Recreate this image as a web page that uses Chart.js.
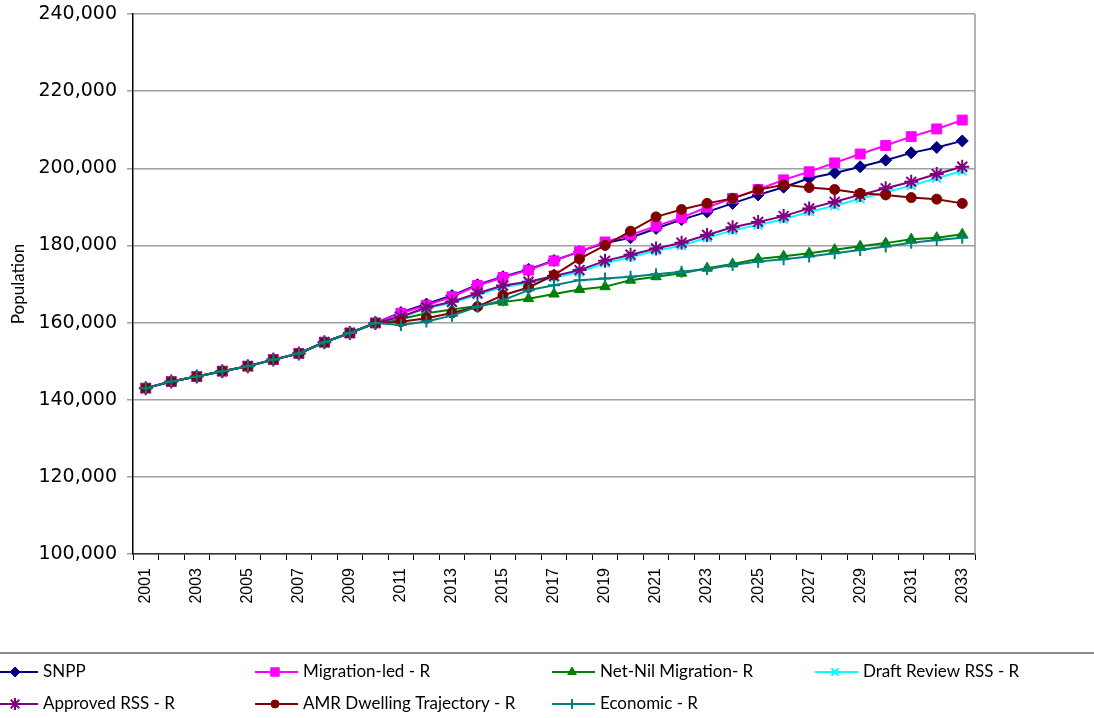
<!DOCTYPE html>
<html lang="en">
<head>
  <meta charset="utf-8">
  <title>Population projections</title>
  <style>
    html, body { margin: 0; padding: 0; background: #fff; }
    #wrap { position: relative; width: 1094px; height: 718px; }
  </style>
</head>
<body>
  <div id="wrap"><canvas id="chart"></canvas></div>

  <script src="https://cdn.jsdelivr.net/npm/chart.js"></script>
  <script>
    const years = ["2001","2002","2003","2004","2005","2006","2007","2008","2009","2010",
      "2011","2012","2013","2014","2015","2016","2017","2018","2019","2020","2021","2022",
      "2023","2024","2025","2026","2027","2028","2029","2030","2031","2032","2033"];

    // 2001-2010 is shared by every series
    const snpp = [143000,144700,146000,147400,148700,150400,152000,154900,157300,159900,
      162600,164800,167000,169800,171900,173800,176100,178400,180600,182000,184400,186700,
      188700,190900,193100,195100,197400,198800,200400,202100,204000,205400,207100];
    const migrationLed = [143000,144700,146000,147400,148700,150400,152000,154900,157300,159900,
      162400,164500,166700,169600,171700,173600,176000,178400,180900,182700,185000,187200,
      189900,192200,194500,197000,199100,201400,203700,205900,208200,210200,212500];
    const netNil = [143000,144700,146000,147400,148700,150400,152000,154900,157300,159900,
      160900,162400,163400,164300,165300,166200,167400,168600,169300,171000,171900,172800,
      174100,175200,176500,177200,178000,178900,179800,180600,181600,182000,182900];
    const draftRss = [143000,144700,146000,147400,148700,150400,152000,154900,157300,159900,
      161400,163700,165100,167200,169200,170200,171600,173100,175400,177000,178600,180000,
      182000,183900,185300,186800,188700,190300,192100,193800,195500,197400,199300];
    const approvedRss = [143000,144700,146000,147400,148700,150400,152000,154900,157300,159900,
      161500,163900,165400,167600,169600,170600,172100,173600,176000,177600,179200,180700,
      182700,184700,186100,187600,189600,191300,193100,194800,196500,198500,200400];
    const amrDwelling = [143000,144700,146000,147400,148700,150400,152000,154900,157300,159900,
      160200,161100,162500,164100,167100,169100,172300,176500,180000,183700,187400,189300,
      190900,192200,194400,195700,195000,194500,193500,193100,192400,192000,190900];
    const economic = [143000,144700,146000,147400,148700,150400,152000,154900,157300,159900,
      159400,160300,161800,164100,165800,168400,169700,171000,171400,171900,172500,173200,
      173900,174900,175800,176400,177100,178000,178800,179700,180700,181400,182000];

    function series(label, data, color, style, radius, order) {
      return {
        label: label,
        data: data,
        borderColor: color,
        backgroundColor: color,
        pointBackgroundColor: color,
        pointBorderColor: color,
        pointStyle: style,
        pointRadius: radius,
        pointHoverRadius: radius,
        pointBorderWidth: (style === 'star' || style === 'cross' || style === 'crossRot') ? 2 : 1,
        borderWidth: 2,
        tension: 0,
        order: order
      };
    }

    // legend layout: [column, row]
    const legendSlots = [[0,0],[1,0],[2,0],[3,0],[0,1],[1,1],[2,1]];
    const legendCols = [-5, 255, 552, 815];
    const legendRows = [672, 704];

    const frameAndLegend = {
      id: 'frameAndLegend',
      afterDraw(chart) {
        const ctx = chart.ctx;
        const a = chart.chartArea;
        ctx.save();
        // right frame line
        ctx.strokeStyle = '#999';
        ctx.lineWidth = 1.5;
        ctx.beginPath();
        ctx.moveTo(a.right, a.top);
        ctx.lineTo(a.right, a.bottom);
        ctx.stroke();
        // separator above legend
        ctx.strokeStyle = '#666';
        ctx.lineWidth = 1.5;
        ctx.beginPath();
        ctx.moveTo(0, 653);
        ctx.lineTo(1094, 653);
        ctx.stroke();

        ctx.font = '17px Lato';
        ctx.textBaseline = 'middle';
        chart.data.datasets.forEach((ds, i) => {
          const [c, r] = legendSlots[i];
          const x0 = legendCols[c];
          const y = legendRows[r];
          ctx.strokeStyle = ds.borderColor;
          ctx.lineWidth = 2;
          ctx.beginPath();
          ctx.moveTo(x0, y);
          ctx.lineTo(x0 + 43, y);
          ctx.stroke();
          ctx.fillStyle = ds.backgroundColor;
          ctx.strokeStyle = ds.borderColor;
          ctx.lineWidth = ds.pointBorderWidth;
          Chart.helpers.drawPoint(ctx, {
            pointStyle: ds.pointStyle,
            radius: ds.pointRadius - 1,
            borderWidth: ds.pointBorderWidth,
            rotation: 0
          }, x0 + 20, y);
          ctx.fillStyle = '#000';
          ctx.fillText(ds.label, x0 + 48, y);
        });
        ctx.restore();
      }
    };

    new Chart(document.getElementById('chart'), {
      type: 'line',
      data: {
        labels: years,
        datasets: [
          series('SNPP', snpp, '#000080', 'rectRot', 6, 6),
          series('Migration-led - R', migrationLed, '#FF00FF', 'rect', 7, 5),
          series('Net-Nil Migration- R', netNil, '#008000', 'triangle', 6, 4),
          series('Draft Review RSS - R', draftRss, '#00FFFF', 'crossRot', 6, 3),
          series('Approved RSS - R', approvedRss, '#800080', 'star', 7, 2),
          series('AMR Dwelling Trajectory - R', amrDwelling, '#800000', 'circle', 5, 1),
          series('Economic - R', economic, '#008080', 'cross', 6, 0)
        ]
      },
      options: {
        responsive: true,
        maintainAspectRatio: false,
        animation: false,
        layout: { padding: { left: 0, right: 119, top: 14, bottom: 104 } },
        plugins: {
          legend: { display: false },
          tooltip: { enabled: false }
        },
        scales: {
          x: {
            offset: true,
            afterFit: (s) => { s.height = 60; s.paddingLeft = 0; s.paddingRight = 0; },
            grid: { drawOnChartArea: false, offset: true, tickLength: 6, color: '#000', lineWidth: 1 },
            border: { color: '#333', width: 1.5 },
            ticks: {
              autoSkip: false,
              minRotation: 90,
              maxRotation: 90,
              padding: 8,
              color: '#000',
              font: { family: 'Liberation Sans', size: 16 },
              callback: function (v, i) { return i % 2 === 0 ? this.getLabelForValue(v) : ''; }
            }
          },
          y: {
            min: 100000,
            max: 240000,
            afterFit: (s) => { s.width = 133; s.paddingTop = 0; s.paddingBottom = 0; },
            grid: { color: '#a0a0a0', lineWidth: 1.5, tickLength: 6 },
            border: { color: '#000', width: 1.5 },
            ticks: {
              stepSize: 20000,
              color: '#000',
              padding: 10,
              font: { family: 'DejaVu Sans', size: 19 },
              callback: (v) => v.toLocaleString('en-US')
            },
            title: {
              display: true,
              text: 'Population',
              color: '#000',
              font: { family: 'Lato', size: 17 },
              padding: { top: 8, bottom: 0 }
            }
          }
        }
      },
      plugins: [frameAndLegend]
    });
  </script>
</body>
</html>
